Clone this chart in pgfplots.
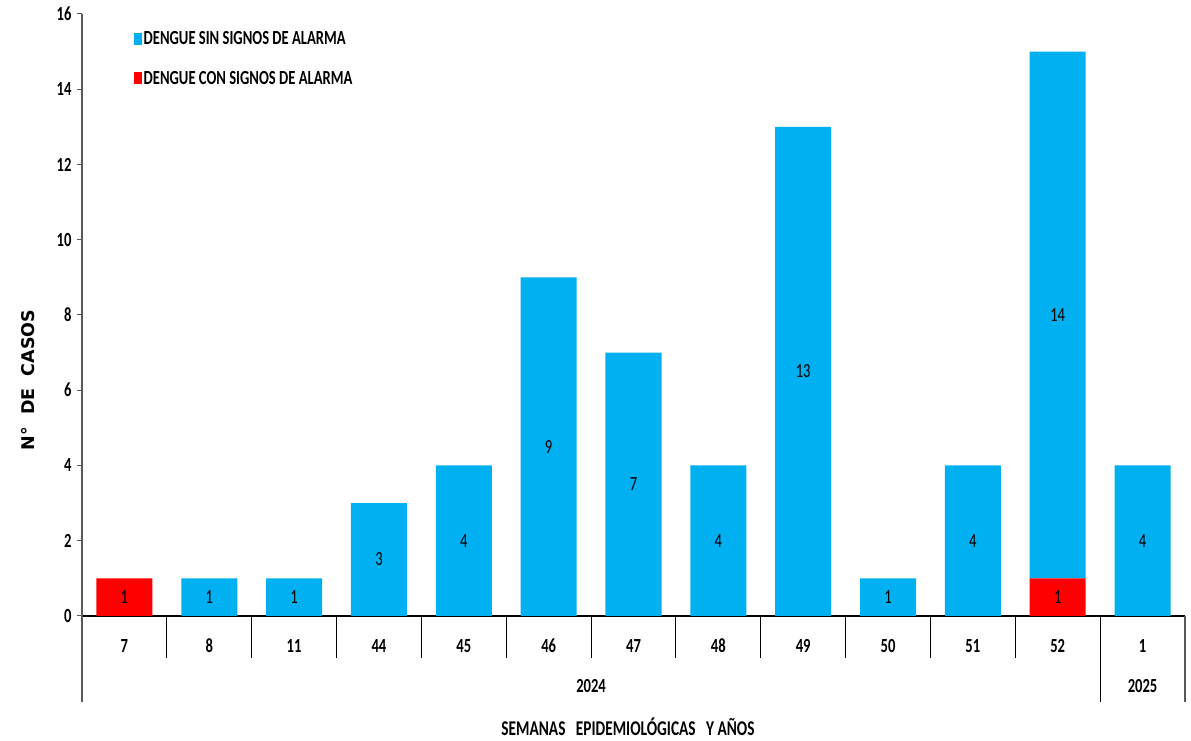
\documentclass[border=0pt]{standalone}
\usepackage{pgfplots}
\pgfplotsset{compat=1.18}
\usepackage{pgfplotstable}
\usepackage{fontspec}
\setmainfont{Carlito}[FakeStretch=0.73]
\newfontfamily\ylabfont{DejaVu Sans}
\definecolor{cblue}{HTML}{00B0F0}
\definecolor{cred}{HTML}{FF0000}
\definecolor{axgray}{HTML}{595959}
\pgfplotstableread{
x week red blue
0 7 1 0
1 8 0 1
2 11 0 1
3 44 0 3
4 45 0 4
5 46 0 9
6 47 0 7
7 48 0 4
8 49 0 13
9 50 0 1
10 51 0 4
11 52 1 14
12 1 0 4
}\datatable
\begin{document}
\begin{tikzpicture}
\path[use as bounding box] (0,0) rectangle (1191pt,741pt);
\begin{axis}[
  at={(82pt,125pt)}, anchor=south west, scale only axis,
  width=1103pt, height=602pt,
  ybar stacked, bar width=56pt,
  xmin=-0.5, xmax=12.5, ymin=0, ymax=16,
  ytick={0,2,...,16},
  xtick=data, xticklabels from table={\datatable}{week},
  axis x line=bottom, axis y line=left, axis line style={-},
  x axis line style={black, line width=2pt},
  y axis line style={axgray, line width=1.2pt},
  xtick style={draw=none},
  ytick style={axgray, line width=1pt},
  tick align=outside, major tick length=5pt,
  /pgf/number format/assume math mode=true,
  ticklabel style={font=\fontsize{20}{23}\selectfont\bfseries},
  yticklabel style={xshift=-2pt},
  xticklabel style={anchor=center, yshift=-25pt},
  clip=false,
  xlabel={SEMANAS\ \ \ EPIDEMIOL\'OGICAS\ \ \ Y A\~NOS},
  xlabel style={at={(rel axis cs:0.495,0)}, anchor=center, yshift=-111pt, font=\fontsize{21}{24}\selectfont\bfseries},
  ylabel={N°\ \ DE\ \ CASOS},
  ylabel style={at={(rel axis cs:-0.049,0.392)}, anchor=center, font=\fontsize{17.5}{20}\selectfont\ylabfont\bfseries},
  reverse legend,
  legend style={at={(rel axis cs:0.044,0.978)}, anchor=north west, draw=none, fill=none,
    row sep=21pt, font=\fontsize{20}{23}\selectfont\bfseries,
    nodes={inner xsep=2pt}},
  legend cell align=left,
  legend image code/.code={\fill[#1] (0pt,-6pt) rectangle (8pt,6pt);},
  point meta=explicit,
  nodes near coords={\pgfmathfloatifflags{\pgfplotspointmeta}{0}{}{\pgfmathprintnumber{\pgfplotspointmeta}}},
  nodes near coords style={font=\fontsize{20}{23}\selectfont, black, anchor=center},
]
\addplot[fill=cred, draw=none]
  table[x=x, y=red, meta=red]{\datatable};
\addplot[fill=cblue, draw=none]
  table[x=x, y=blue, meta=blue]{\datatable};
\legend{DENGUE CON SIGNOS DE ALARMA, DENGUE SIN SIGNOS DE ALARMA}
\pgfplotsinvokeforeach{0.5,1.5,2.5,3.5,4.5,5.5,6.5,7.5,8.5,9.5,10.5}{
  \draw[black, line width=1pt] (axis cs:#1,0) -- ++(0pt,-42pt);
}
\draw[axgray, line width=1.2pt] (axis cs:-0.5,0) -- ++(0pt,-86pt);
\draw[black, line width=1pt] (axis cs:11.5,0) -- ++(0pt,-86pt);
\draw[axgray, line width=1.2pt] (axis cs:12.5,0) -- ++(0pt,-86pt);
\node[font=\fontsize{20}{23}\selectfont\bfseries, yshift=-70pt] at (axis cs:5.5,0) {2024};
\node[font=\fontsize{20}{23}\selectfont\bfseries, yshift=-70pt] at (axis cs:12,0) {2025};
\end{axis}
\end{tikzpicture}
\end{document}
